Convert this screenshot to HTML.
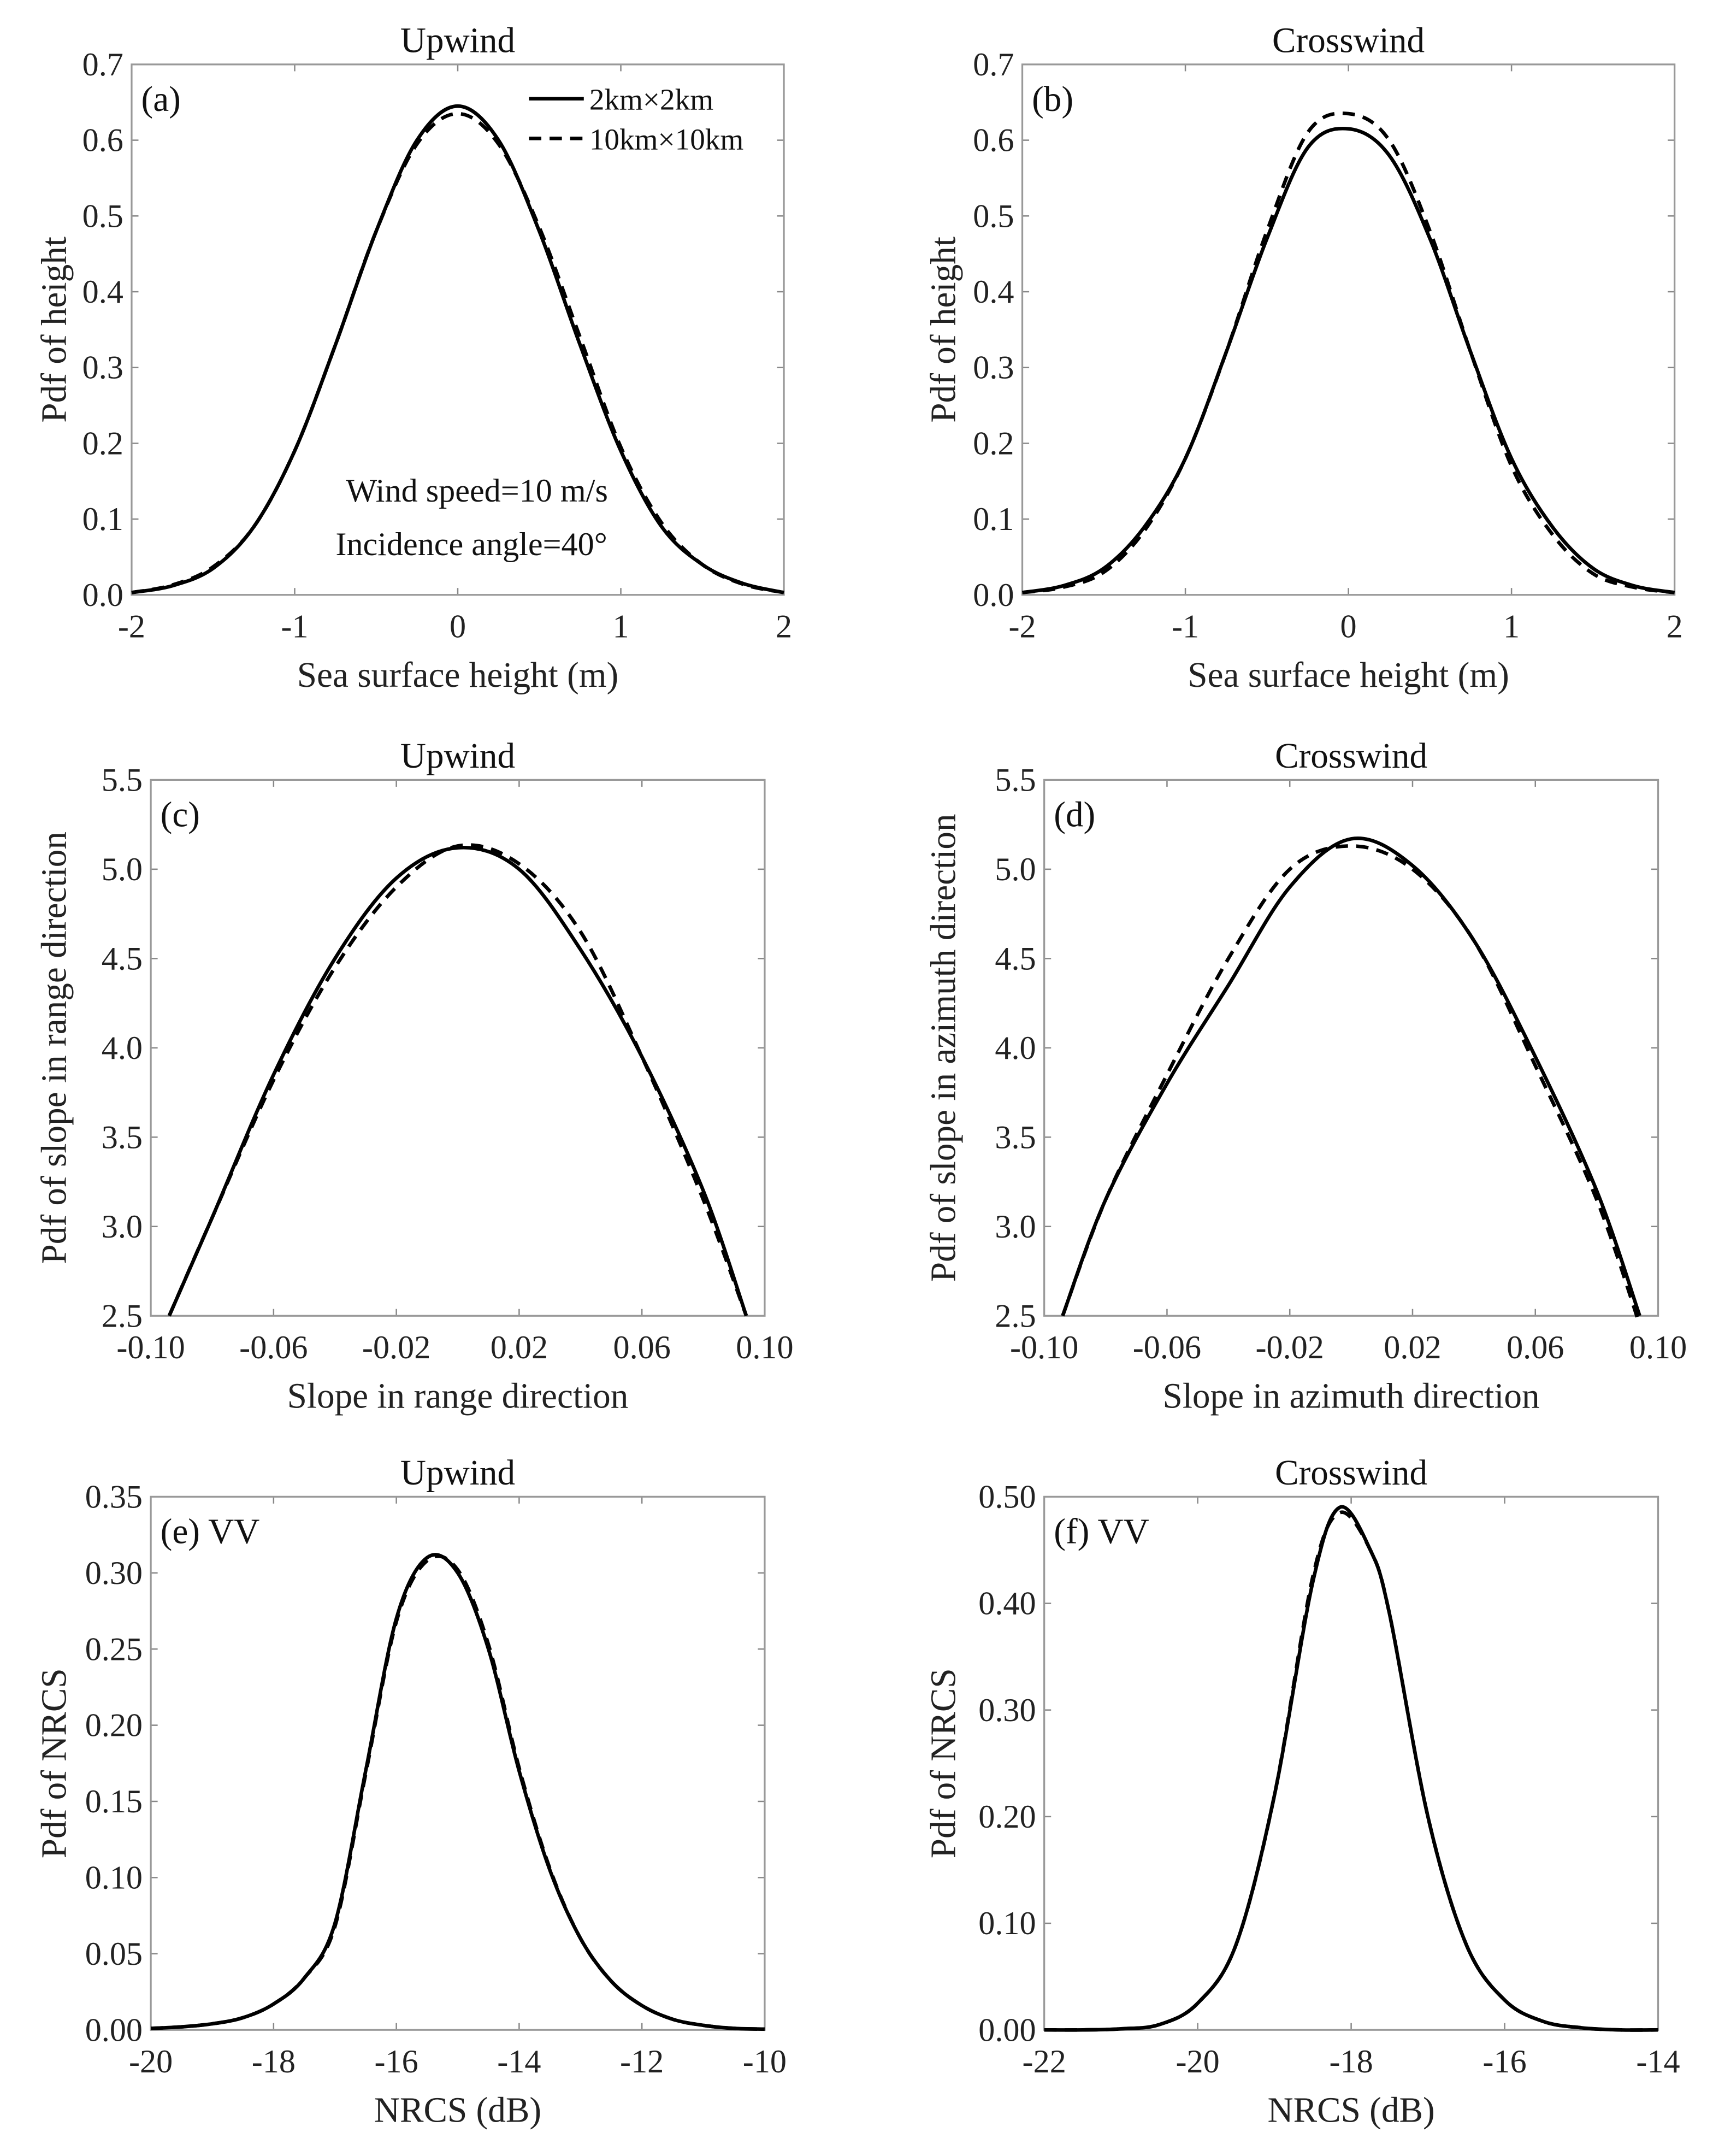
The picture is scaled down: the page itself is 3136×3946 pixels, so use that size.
<!DOCTYPE html>
<html><head><meta charset="utf-8"><style>
html,body{margin:0;padding:0;background:#fff;}
svg, svg text{font-family:"Liberation Serif","Times New Roman",serif;}
svg{display:block;}
</style></head><body>
<svg id="fig" width="3136" height="3946" viewBox="0 0 1250 1573" xmlns="http://www.w3.org/2000/svg"></svg>
<script>
// ---- data ----
const aX=[-2,-1.75,-1.5,-1.25,-1,-0.75,-0.5,-0.25,0,0.25,0.5,0.75,1,1.25,1.5,1.75,2];
const aSolid=[0.003,0.012,0.035,0.09,0.19,0.33,0.48,0.6,0.645,0.6,0.48,0.33,0.19,0.09,0.04,0.015,0.003];
const aDash=[0.003,0.013,0.037,0.09,0.19,0.33,0.48,0.595,0.635,0.595,0.485,0.34,0.195,0.095,0.04,0.014,0.003];
const bX=aX;
const bSolid=[0.003,0.012,0.035,0.09,0.18,0.32,0.47,0.59,0.615,0.58,0.47,0.32,0.18,0.09,0.035,0.012,0.003];
const bDash=[0.003,0.01,0.03,0.085,0.18,0.32,0.48,0.61,0.635,0.6,0.48,0.32,0.17,0.08,0.028,0.01,0.003];
const cX=[-0.094,-0.08,-0.06,-0.04,-0.02,0,0.02,0.04,0.06,0.08,0.094];
const cSolid=[2.5,3.05,3.85,4.5,4.95,5.12,5.0,4.55,3.95,3.2,2.5];
const cDash=[2.5,3.05,3.82,4.45,4.9,5.13,5.03,4.65,3.95,3.15,2.5];
const dX=cX;
const dSolid=[2.5,3.15,3.8,4.35,4.9,5.17,5.02,4.6,3.95,3.2,2.5];
const dDash=[2.5,3.15,3.85,4.5,5.0,5.13,5.0,4.6,3.9,3.15,2.45];
const eX=[-20,-19.5,-19,-18.5,-18,-17.5,-17,-16.5,-16,-15.5,-15,-14.5,-14,-13.5,-13,-12.5,-12,-11.5,-11,-10.5,-10];
const eSolid=[0.001,0.002,0.004,0.008,0.017,0.034,0.07,0.17,0.27,0.31,0.3,0.25,0.17,0.105,0.06,0.032,0.016,0.007,0.003,0.001,0.0005];
const eDash=[0.001,0.002,0.004,0.008,0.017,0.034,0.068,0.168,0.268,0.308,0.302,0.253,0.172,0.106,0.06,0.032,0.016,0.007,0.003,0.001,0.0005];
const fX=[-22,-21.5,-21,-20.5,-20,-19.5,-19,-18.5,-18.15,-17.75,-17.5,-17,-16.5,-16,-15.5,-15,-14.5,-14];
const fSolid=[0,0,0.001,0.005,0.025,0.08,0.22,0.42,0.49,0.45,0.39,0.2,0.08,0.028,0.008,0.002,0,0];
const fDash=[0,0,0.001,0.005,0.025,0.08,0.22,0.425,0.485,0.45,0.39,0.2,0.08,0.028,0.008,0.002,0,0];
const aYTicks=[0,0.1,0.2,0.3,0.4,0.5,0.6,0.7], aYLabels=["0.0","0.1","0.2","0.3","0.4","0.5","0.6","0.7"];
const aXTicks=[-2,-1,0,1,2], aXLabels=["-2","-1","0","1","2"];
const cYTicks=[2.5,3,3.5,4,4.5,5,5.5], cYLabels=["2.5","3.0","3.5","4.0","4.5","5.0","5.5"];
const cXTicks=[-0.1,-0.06,-0.02,0.02,0.06,0.1], cXLabels=["-0.10","-0.06","-0.02","0.02","0.06","0.10"];
const eYTicks=[0,0.05,0.1,0.15,0.2,0.25,0.3,0.35], eYLabels=["0.00","0.05","0.10","0.15","0.20","0.25","0.30","0.35"];
const eXTicks=[-20,-18,-16,-14,-12,-10], eXLabels=["-20","-18","-16","-14","-12","-10"];
const fYTicks=[0,0.1,0.2,0.3,0.4,0.5], fYLabels=["0.00","0.10","0.20","0.30","0.40","0.50"];
const fXTicks=[-22,-20,-18,-16,-14], fXLabels=["-22","-20","-18","-16","-14"];

const NS="http://www.w3.org/2000/svg";
const svg=document.getElementById('fig');
const FF='"Liberation Serif","Times New Roman",serif';
function mk(tag,attrs,parent,text){const e=document.createElementNS(NS,tag);for(const k in attrs)e.setAttribute(k,attrs[k]);if(tag==='text')e.setAttribute('font-family',FF);if(text!==undefined)e.textContent=text;(parent||svg).appendChild(e);return e;}
function smooth(pts){let d="M"+pts[0][0]+","+pts[0][1];for(let i=0;i<pts.length-1;i++){const p0=pts[Math.max(i-1,0)],p1=pts[i],p2=pts[i+1],p3=pts[Math.min(i+2,pts.length-1)];const c1x=p1[0]+(p2[0]-p0[0])/6,c1y=p1[1]+(p2[1]-p0[1])/6,c2x=p2[0]-(p3[0]-p1[0])/6,c2y=p2[1]-(p3[1]-p1[1])/6;d+=` C${c1x},${c1y} ${c2x},${c2y} ${p2[0]},${p2[1]}`;}return d;}

function panel(o){
  const g=mk('g',{});
  
  
  const sx=v=>o.x0+(v-o.xmin)/(o.xmax-o.xmin)*(o.x1-o.x0);
  const sy=v=>o.y1-(v-o.ymin)/(o.ymax-o.ymin)*(o.y1-o.y0);
  o.yt.forEach((v,i)=>{const y=sy(v);
    mk('line',{x1:o.x0,y1:y,x2:o.x0+5,y2:y,stroke:'#888','stroke-width':1},g);
    mk('line',{x1:o.x1,y1:y,x2:o.x1-5,y2:y,stroke:'#888','stroke-width':1},g);
    const t=mk('text',{x:o.x0-6,y:y+8,'text-anchor':'end','font-size':24,fill:'#222'},g,o.yl[i]);
    });
  o.xt.forEach((v,i)=>{const x=sx(v);
    mk('line',{x1:x,y1:o.y1,x2:x,y2:o.y1-5,stroke:'#888','stroke-width':1},g);
    mk('line',{x1:x,y1:o.y0,x2:x,y2:o.y0+5,stroke:'#888','stroke-width':1},g);
    const t=mk('text',{x:x,y:o.y1+31,'text-anchor':'middle','font-size':24,fill:'#222'},g,o.xl[i]);
    });
  const box=mk('rect',{x:o.x0,y:o.y0,width:o.x1-o.x0,height:o.y1-o.y0,fill:'none',stroke:'#999','stroke-width':1.3},g);
  
  const dp=mk('path',{d:smooth(o.xs.map((v,i)=>[sx(v),sy(o.dash[i])])),fill:'none',stroke:'#000','stroke-width':2.6,'stroke-dasharray':'9,6'},g);
  
  const sp=mk('path',{d:smooth(o.xs.map((v,i)=>[sx(v),sy(o.solid[i])])),fill:'none',stroke:'#000','stroke-width':2.6},g);
  
  const cx=(o.x0+o.x1)/2;
  const ti=mk('text',{x:cx,y:o.y0-9,'text-anchor':'middle','font-size':26,fill:'#111'},g,o.title);
  
  const xl=mk('text',{x:cx,y:o.y1+67,'text-anchor':'middle','font-size':26,fill:'#222'},g,o.xlab);
  
  const ym=(o.y0+o.y1)/2;
  const yl=mk('text',{x:o.ylx,y:ym,'text-anchor':'middle','font-size':26,fill:'#222',transform:`rotate(-90 ${o.ylx} ${ym})`},g,o.ylab);
  
  const pl=mk('text',{x:o.x0+7,y:o.y0+34,'font-size':26,fill:'#111'},g,o.tag);
  
  return g;
}
panel({name:'panel-a',x0:96,x1:572,y0:47,y1:434,xmin:-2,xmax:2,ymin:0,ymax:0.7,xt:aXTicks,xl:aXLabels,yt:aYTicks,yl:aYLabels,xs:aX,solid:aSolid,dash:aDash,title:'Upwind',xlab:'Sea surface height (m)',ylab:'Pdf of height',ylx:48,tag:'(a)'});
panel({name:'panel-b',x0:746,x1:1222,y0:47,y1:434,xmin:-2,xmax:2,ymin:0,ymax:0.7,xt:aXTicks,xl:aXLabels,yt:aYTicks,yl:aYLabels,xs:bX,solid:bSolid,dash:bDash,title:'Crosswind',xlab:'Sea surface height (m)',ylab:'Pdf of height',ylx:697,tag:'(b)'});
panel({name:'panel-c',x0:110,x1:558,y0:569,y1:960,xmin:-0.1,xmax:0.1,ymin:2.5,ymax:5.5,xt:cXTicks,xl:cXLabels,yt:cYTicks,yl:cYLabels,xs:cX,solid:cSolid,dash:cDash,title:'Upwind',xlab:'Slope in range direction',ylab:'Pdf of slope in range direction',ylx:48,tag:'(c)'});
panel({name:'panel-d',x0:762,x1:1210,y0:569,y1:960,xmin:-0.1,xmax:0.1,ymin:2.5,ymax:5.5,xt:cXTicks,xl:cXLabels,yt:cYTicks,yl:cYLabels,xs:dX,solid:dSolid,dash:dDash,title:'Crosswind',xlab:'Slope in azimuth direction',ylab:'Pdf of slope in azimuth direction',ylx:697,tag:'(d)'});
panel({name:'panel-e',x0:110,x1:558,y0:1092,y1:1481,xmin:-20,xmax:-10,ymin:0,ymax:0.35,xt:eXTicks,xl:eXLabels,yt:eYTicks,yl:eYLabels,xs:eX,solid:eSolid,dash:eDash,title:'Upwind',xlab:'NRCS (dB)',ylab:'Pdf of NRCS',ylx:48,tag:'(e) VV'});
panel({name:'panel-f',x0:762,x1:1210,y0:1092,y1:1481,xmin:-22,xmax:-14,ymin:0,ymax:0.5,xt:fXTicks,xl:fXLabels,yt:fYTicks,yl:fYLabels,xs:fX,solid:fSolid,dash:fDash,title:'Crosswind',xlab:'NRCS (dB)',ylab:'Pdf of NRCS',ylx:697,tag:'(f) VV'});
const lg=mk('g',{});


mk('line',{x1:386,y1:72,x2:426,y2:72,stroke:'#000','stroke-width':2.6},lg);
mk('text',{x:430,y:80,'font-size':22,fill:'#111'},lg,'2km×2km');
mk('line',{x1:386,y1:101,x2:426,y2:101,stroke:'#000','stroke-width':2.6,'stroke-dasharray':'9,6'},lg);
mk('text',{x:430,y:109,'font-size':22,fill:'#111'},lg,'10km×10km');
const n1=mk('text',{x:348,y:366,'text-anchor':'middle','font-size':24,fill:'#111'},svg,'Wind speed=10 m/s');


const n2=mk('text',{x:344,y:405,'text-anchor':'middle','font-size':24,fill:'#111'},svg,'Incidence angle=40°');


</script>
</body></html>
